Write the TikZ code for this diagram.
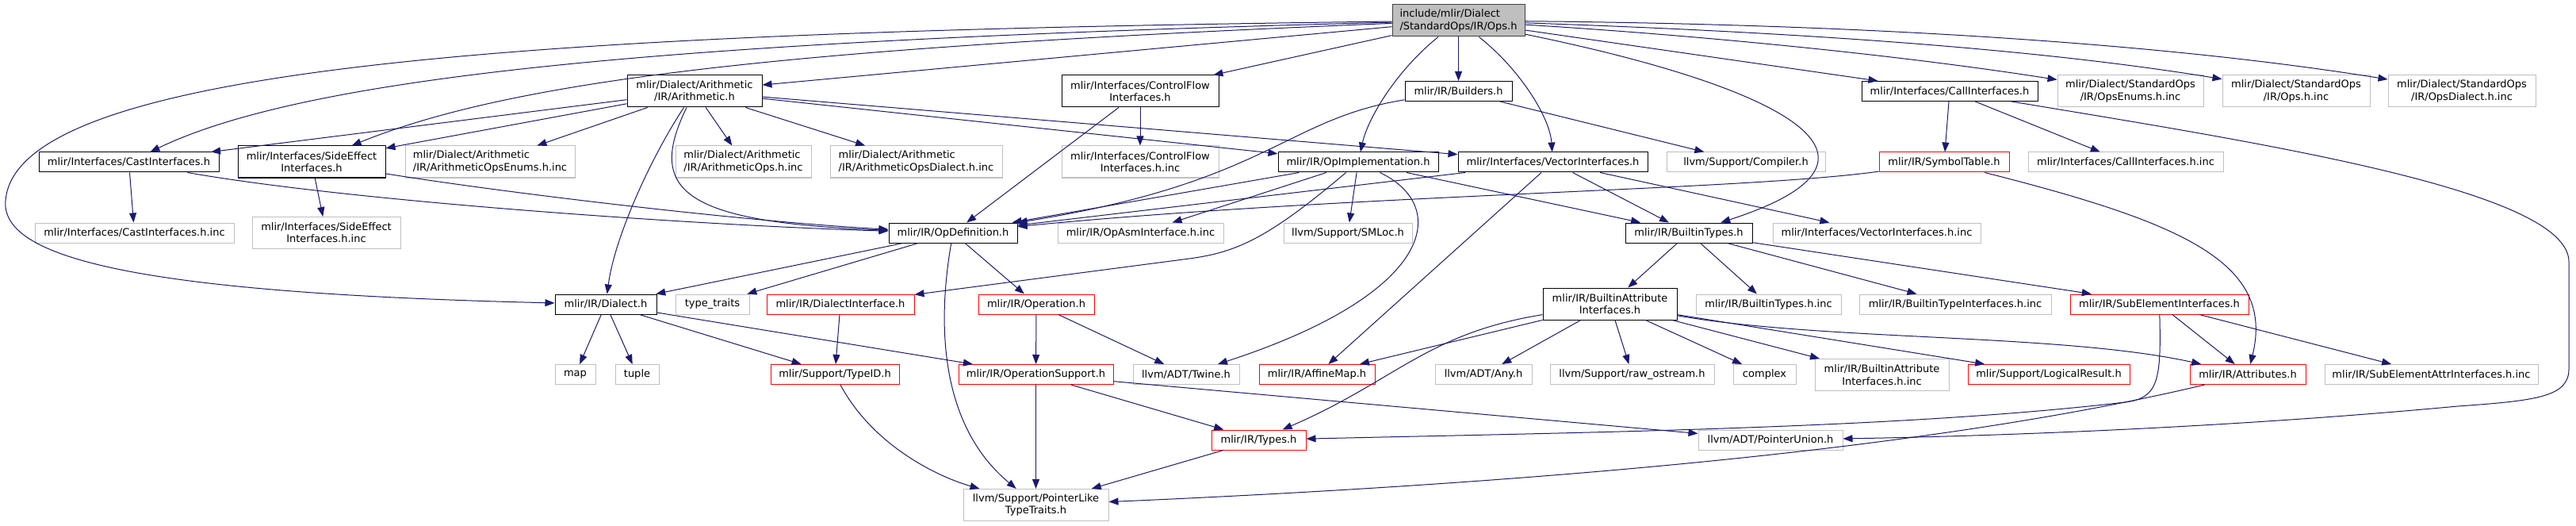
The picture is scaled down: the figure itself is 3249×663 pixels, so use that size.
\documentclass[tikz,border=0pt]{standalone}
\usepackage{fontspec}
\setmainfont{DejaVu Sans}
\usepackage{xcolor}
\usepackage{tikz}
\usetikzlibrary{arrows.meta,positioning}

\definecolor{depblue}{HTML}{191970}
\definecolor{sysgray}{HTML}{BFBFBF}

\begin{document}
\begin{tikzpicture}[
  x=1pt, y=-1pt,
  font=\fontsize{13}{15.3}\selectfont,
  hdr/.style={draw=black, line width=1pt, align=center, inner sep=2pt, minimum height=25pt},
  two/.style={minimum height=40pt},
  inc/.style={hdr, draw=sysgray},
  cut/.style={hdr, draw=red},
  top/.style={hdr, two, align=left, fill=sysgray, draw=black!75},
  dep/.style={-{Triangle[length=12pt,width=9pt]}, color=depblue, line width=1pt}
]
\useasboundingbox (0,0) rectangle (3249,663);

% row 1
\node[top, minimum width=167pt] (ops) at (1839.5,26) {include/mlir/Dialect\\/StandardOps/IR/Ops.h};
\node[hdr, two, minimum width=170pt] (arith) at (876,115) {mlir/Dialect/Arithmetic\\/IR/Arithmetic.h};
\node[hdr, two, minimum width=198pt] (cfi) at (1438,115) {mlir/Interfaces/ControlFlow\\Interfaces.h};
\node[hdr, minimum width=135pt] (builders) at (1839.5,115) {mlir/IR/Builders.h};
\node[hdr, minimum width=222pt] (callif) at (2459,115) {mlir/Interfaces/CallInterfaces.h};
\node[inc, two, minimum width=184pt] (opsenums) at (2687,115) {mlir/Dialect/StandardOps\\/IR/OpsEnums.h.inc};
\node[inc, two, minimum width=186pt] (opsinc) at (2896,115) {mlir/Dialect/StandardOps\\/IR/Ops.h.inc};
\node[inc, two, minimum width=186pt] (opsdialect) at (3105,115) {mlir/Dialect/StandardOps\\/IR/OpsDialect.h.inc};

% row 2
\node[hdr, minimum width=227pt] (castif) at (162.5,204.5) {mlir/Interfaces/CastInterfaces.h};
\node[hdr, two, minimum width=186pt] (sideeff) at (393,204) {mlir/Interfaces/SideEffect\\Interfaces.h};
\node[inc, two, align=left, minimum width=214pt] (arithenums) at (618,204) {mlir/Dialect/Arithmetic\\/IR/ArithmeticOpsEnums.h.inc};
\node[inc, two, align=left, minimum width=171pt] (arithops) at (937.5,204) {mlir/Dialect/Arithmetic\\/IR/ArithmeticOps.h.inc};
\node[inc, two, align=left, minimum width=217pt] (arithdialect) at (1155.5,204) {mlir/Dialect/Arithmetic\\/IR/ArithmeticOpsDialect.h.inc};
\node[inc, two, minimum width=198pt] (cfiinc) at (1438,204) {mlir/Interfaces/ControlFlow\\Interfaces.h.inc};
\node[hdr, minimum width=202pt] (opimpl) at (1713,204.5) {mlir/IR/OpImplementation.h};
\node[hdr, minimum width=239pt] (vecif) at (1958.5,204.5) {mlir/Interfaces/VectorInterfaces.h};
\node[inc, minimum width=200pt] (compiler) at (2202,204.5) {llvm/Support/Compiler.h};
\node[cut, minimum width=164pt] (symtab) at (2452,204.5) {mlir/IR/SymbolTable.h};
\node[inc, minimum width=246pt] (callifinc) at (2681,204.5) {mlir/Interfaces/CallInterfaces.h.inc};

% row 3
\node[inc, minimum width=251pt] (castinc) at (169.5,293.5) {mlir/Interfaces/CastInterfaces.h.inc};
\node[inc, two, minimum width=187pt] (sideinc) at (411.5,293.5) {mlir/Interfaces/SideEffect\\Interfaces.h.inc};
\node[hdr, minimum width=162pt] (opdef) at (1202,293.5) {mlir/IR/OpDefinition.h};
\node[inc, minimum width=209pt] (opasm) at (1438.5,293.5) {mlir/IR/OpAsmInterface.h.inc};
\node[inc, minimum width=162pt] (smloc) at (1700,293.5) {llvm/Support/SMLoc.h};
\node[hdr, minimum width=160pt] (btypes) at (2130,293.5) {mlir/IR/BuiltinTypes.h};
\node[inc, minimum width=262pt] (vecinc) at (2367,293.5) {mlir/Interfaces/VectorInterfaces.h.inc};

% row 4
\node[hdr, minimum width=128pt] (dialect) at (764,383.5) {mlir/IR/Dialect.h};
\node[inc, minimum width=93pt, right=23pt of dialect] (typetraits) {type\_traits};
\node[cut, minimum width=186pt] (dialif) at (1060,383.5) {mlir/IR/DialectInterface.h};
\node[cut, minimum width=146pt] (operation) at (1307,383.5) {mlir/IR/Operation.h};
\node[hdr, two, minimum width=169pt] (battrif) at (2030.5,383) {mlir/IR/BuiltinAttribute\\Interfaces.h};
\node[inc, minimum width=183pt] (btinc) at (2230.5,383.5) {mlir/IR/BuiltinTypes.h.inc};
\node[inc, minimum width=242pt] (btifinc) at (2466,383.5) {mlir/IR/BuiltinTypeInterfaces.h.inc};
\node[cut, minimum width=225pt] (subel) at (2723.5,383.5) {mlir/IR/SubElementInterfaces.h};

% row 5
\node[inc, minimum width=51pt] (map) at (725.5,472) {map};
\node[inc, minimum width=55pt, right=24pt of map] (tuple) {tuple};
\node[cut, minimum width=162pt] (typeid) at (1053,472) {mlir/Support/TypeID.h};
\node[cut, minimum width=195pt] (opsupport) at (1306.5,472) {mlir/IR/OperationSupport.h};
\node[inc, minimum width=134pt] (twine) at (1496,472) {llvm/ADT/Twine.h};
\node[cut, minimum width=146pt] (affine) at (1661,472) {mlir/IR/AffineMap.h};
\node[inc, minimum width=122pt] (any) at (1871,472) {llvm/ADT/Any.h};
\node[inc, minimum width=207pt] (rawos) at (2058.5,472) {llvm/Support/raw\_ostream.h};
\node[inc, minimum width=79pt] (complex) at (2225.5,472) {complex};
\node[inc, two, minimum width=169pt] (baifinc) at (2373.5,472.5) {mlir/IR/BuiltinAttribute\\Interfaces.h.inc};
\node[cut, minimum width=204pt] (logres) at (2584,472) {mlir/Support/LogicalResult.h};
\node[cut, minimum width=146pt] (attrs) at (2835,472) {mlir/IR/Attributes.h};
\node[inc, minimum width=269pt] (subelinc) at (3066.5,472) {mlir/IR/SubElementAttrInterfaces.h.inc};

% rows 6 and 7
\node[cut, minimum width=119pt] (types) at (1587.5,554.5) {mlir/IR/Types.h};
\node[inc, minimum width=182pt] (punion) at (2233,554.5) {llvm/ADT/PointerUnion.h};
\node[inc, two, minimum width=183pt] (ptrlike) at (1306.5,636.5) {llvm/Support/PointerLike\\TypeTraits.h};

% from the root
\draw[dep] (ops) -- (arith);
\draw[dep] (ops) .. controls (900,50) and (400,90) .. (castif);
\draw[dep] (ops) .. controls (1000,60) and (650,100) .. (sideeff);
\draw[dep] (ops) .. controls (700,40) and (20,80) .. (7,253) .. controls (0,330) and (200,370) .. (dialect);
\draw[dep] (ops) -- (cfi);
\draw[dep] (ops) -- (builders);
\draw[dep] (ops) .. controls (1760,90) and (1725,150) .. (opimpl);
\draw[dep] (ops) .. controls (1920,90) and (1955,150) .. (vecif);
\draw[dep] (ops) .. controls (2250,110) and (2420,200) .. (btypes);
\draw[dep] (ops) -- (callif);
\draw[dep] (ops) .. controls (2150,45) and (2400,70) .. (opsenums);
\draw[dep] (ops) .. controls (2250,40) and (2560,60) .. (opsinc);
\draw[dep] (ops) .. controls (2300,30) and (2700,50) .. (opsdialect);

% Arithmetic.h
\draw[dep] (arith) -- (castif);
\draw[dep] (arith) -- (sideeff);
\draw[dep] (arith) -- (arithenums);
\draw[dep] (arith) -- (arithops);
\draw[dep] (arith) -- (arithdialect);
\draw[dep] (arith) .. controls (820,200) and (775,300) .. (dialect);
\draw[dep] (arith) .. controls (815,240) and (860,280) .. (opdef);
\draw[dep] (arith) -- (opimpl);
\draw[dep] (arith) -- (vecif);

% interfaces
\draw[dep] (castif) -- (castinc);
\draw[dep] (castif) .. controls (450,255) and (900,285) .. (opdef);
\draw[dep] (sideeff) -- (sideinc);
\draw[dep] (sideeff) .. controls (650,245) and (950,280) .. (opdef);
\draw[dep] (cfi) -- (cfiinc);
\draw[dep] (cfi) -- (opdef);
\draw[dep] (builders) .. controls (1620,150) and (1600,230) .. (opdef);
\draw[dep] (builders) -- (compiler);
\draw[dep] (callif) -- (symtab);
\draw[dep] (callif) -- (callifinc);
\draw[dep] (callif) .. controls (2850,180) and (3240,240) .. (3240,330) -- (3240,465)
  .. controls (3240,500) and (3200,505) .. (3100,512) .. controls (2800,540) and (2500,550) .. (punion);

% OpImplementation.h, VectorInterfaces.h, SymbolTable.h
\draw[dep] (opimpl) -- (opdef);
\draw[dep] (opimpl) -- (opasm);
\draw[dep] (opimpl) -- (smloc);
\draw[dep] (opimpl) .. controls (1600,300) and (1560,318) .. (1500,326) -- (dialif);
\draw[dep] (opimpl) .. controls (1830,260) and (1810,370) .. (twine);
\draw[dep] (opimpl) -- (btypes);
\draw[dep] (vecif) -- (opdef);
\draw[dep] (vecif) -- (btypes);
\draw[dep] (vecif) -- (vecinc);
\draw[dep] (vecif) -- (affine);
\draw[dep] (symtab) .. controls (2200,240) and (1700,245) .. (opdef);
\draw[dep] (symtab) .. controls (2750,280) and (2870,330) .. (attrs);

% BuiltinTypes.h and below
\draw[dep] (btypes) -- (battrif);
\draw[dep] (btypes) -- (btinc);
\draw[dep] (btypes) -- (btifinc);
\draw[dep] (btypes) -- (subel);
\draw[dep] (battrif) -- (affine);
\draw[dep] (battrif) .. controls (1800,420) and (1760,480) .. (types);
\draw[dep] (battrif) -- (any);
\draw[dep] (battrif) -- (rawos);
\draw[dep] (battrif) -- (complex);
\draw[dep] (battrif) -- (baifinc);
\draw[dep] (battrif) -- (logres);
\draw[dep] (battrif) .. controls (2300,430) and (2600,420) .. (attrs);
\draw[dep] (subel) -- (attrs);
\draw[dep] (subel) -- (subelinc);
\draw[dep] (subel) .. controls (2726,480) and (2722,502) .. (2680,507) .. controls (2400,540) and (2000,545) .. (types);

% OpDefinition.h and below
\draw[dep] (opdef) -- (dialect);
\draw[dep] (opdef) -- (typetraits);
\draw[dep] (opdef) .. controls (1180,420) and (1190,540) .. (ptrlike);
\draw[dep] (opdef) -- (operation);
\draw[dep] (dialect) -- (map);
\draw[dep] (dialect) -- (tuple);
\draw[dep] (dialect) -- (typeid);
\draw[dep] (dialect) -- (opsupport);
\draw[dep] (dialif) -- (typeid);
\draw[dep] (operation) -- (opsupport);
\draw[dep] (operation) -- (twine);
\draw[dep] (typeid) .. controls (1100,560) and (1180,600) .. (ptrlike);
\draw[dep] (opsupport) -- (ptrlike);
\draw[dep] (opsupport) -- (types);
\draw[dep] (opsupport) -- (punion);
\draw[dep] (types) -- (ptrlike);
\draw[dep] (attrs) .. controls (2550,540) and (2150,600) .. (ptrlike);
\end{tikzpicture}
\end{document}
